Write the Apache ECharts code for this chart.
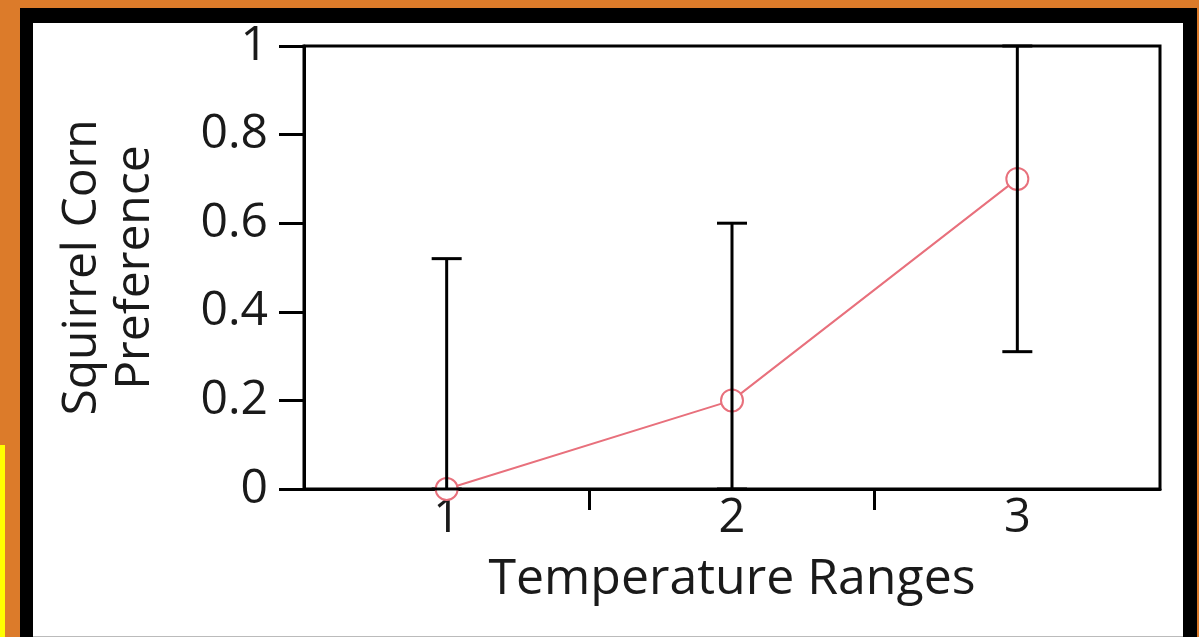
<!DOCTYPE html>
<html>
<head>
<meta charset="utf-8">
<script src="https://cdn.jsdelivr.net/npm/echarts@6/dist/echarts.min.js"></script>
<style>
  html, body { margin: 0; padding: 0; }
  body { width: 1199px; height: 637px; background: #DC7B2A; position: relative; overflow: hidden; }
  #frame { position: absolute; left: 20px; top: 8px; width: 1177px; height: 629px; background: #000; }
  #paper { position: absolute; left: 33px; top: 23px; width: 1150px; height: 613px; background: #fff; border-bottom: 1px solid #bbb; }
  #stripe { position: absolute; left: 0; top: 445px; width: 5px; height: 192px; background: #ffff00; }
  #chart { position: absolute; left: 0; top: 0; width: 1199px; height: 637px; }
</style>
</head>
<body>
<div id="frame"></div>
<div id="paper"></div>
<div id="stripe"></div>
<div id="chart"></div>
<script>
// temperature ranges (x axis positions / labels)
var ranges = [1, 2, 3];
// tick marks between the ranges
var xTicks = [1.5, 2.5];
// mean preference per range
var preference = [0, 0.2, 0.7];
// error bar ends
var errLow = [0, 0, 0.31];
var errHigh = [0.52, 0.6, 1.0];

var font = '"Open Sans", sans-serif';
var txt = '#1a1a1a';

var myChart = echarts.init(document.getElementById('chart'));

var lineData = [];
var errData = [];
for (var i = 0; i < ranges.length; i++) {
    lineData.push([ranges[i], preference[i]]);
    errData.push([ranges[i], errLow[i], errHigh[i]]);
}

option = {
    animation: false,
    backgroundColor: 'transparent',
    grid: {
        left: 304,
        right: 39,
        top: 46,
        bottom: 148,
        show: true,
        borderColor: '#000',
        borderWidth: 3
    },
    xAxis: {
        type: 'value',
        min: 0.5,
        max: 3.5,
        interval: 0.5,
        name: 'Temperature Ranges',
        nameLocation: 'middle',
        nameGap: 66,
        nameTextStyle: { fontFamily: font, fontSize: 50, color: txt },
        axisLine: { show: true, onZero: false, lineStyle: { color: '#000', width: 3 } },
        axisTick: { show: true, inside: false, length: 21, customValues: xTicks, lineStyle: { color: '#000', width: 3 } },
        axisLabel: { fontFamily: font, fontSize: 47, color: txt, margin: 6, customValues: ranges },
        splitLine: { show: false }
    },
    yAxis: {
        type: 'value',
        min: 0,
        max: 1,
        interval: 0.2,
        name: 'Squirrel Corn\nPreference',
        nameLocation: 'middle',
        nameGap: 142,
        nameTextStyle: { fontFamily: font, fontSize: 48, color: txt, lineHeight: 53 },
        axisLine: { show: true, lineStyle: { color: '#000', width: 3 } },
        axisTick: { show: true, inside: false, length: 25, lineStyle: { color: '#000', width: 3 } },
        axisLabel: { fontFamily: font, fontSize: 48, color: txt, margin: 36 },
        splitLine: { show: false }
    },
    series: [
        {
            type: 'line',
            data: lineData,
            symbol: 'emptyCircle',
            symbolSize: 22,
            lineStyle: { color: '#E8707C', width: 2 },
            itemStyle: { color: '#E8707C', borderColor: '#DE5066', borderWidth: 3 },
            z: 2
        },
        {
            type: 'custom',
            data: errData,
            z: 3,
            renderItem: function (params, api) {
                var x = api.value(0);
                var lo = api.coord([x, api.value(1)]);
                var hi = api.coord([x, api.value(2)]);
                var w = 15;
                var st = { stroke: '#000', lineWidth: 3 };
                return {
                    type: 'group',
                    children: [
                        { type: 'line', shape: { x1: lo[0], y1: lo[1], x2: hi[0], y2: hi[1] }, style: st },
                        { type: 'line', shape: { x1: hi[0] - w, y1: hi[1], x2: hi[0] + w, y2: hi[1] }, style: st },
                        { type: 'line', shape: { x1: lo[0] - w, y1: lo[1], x2: lo[0] + w, y2: lo[1] }, style: st }
                    ]
                };
            }
        }
    ]
};

myChart.setOption(option);
</script>
</body>
</html>
